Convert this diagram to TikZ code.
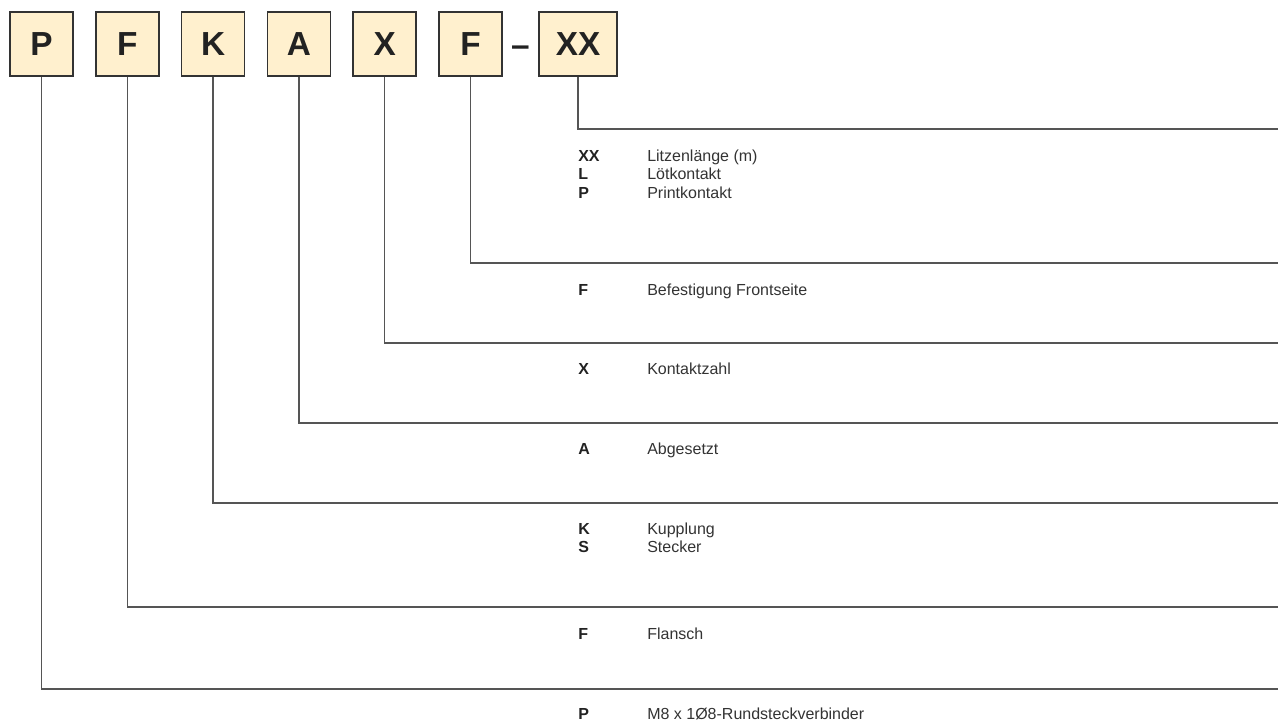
\documentclass[tikz,border=0pt]{standalone}
\usepackage{fontspec}
\setmainfont{Liberation Sans}
\usetikzlibrary{positioning}

\definecolor{boxfill}{RGB}{255,240,206}
\definecolor{boxline}{RGB}{51,51,51}
\definecolor{guideline}{RGB}{85,85,85}
\definecolor{keyink}{RGB}{34,34,34}
\definecolor{descink}{RGB}{51,51,51}

\begin{document}
\begin{tikzpicture}
  [x=0.75pt, y=-0.75pt,
   node distance=16pt,
   letterbox/.style={rectangle,
                     draw=boxline,
                     fill=boxfill,
                     line width=1.1pt,
                     text=keyink,
                     minimum width=47.25pt,
                     minimum height=48pt,
                     font=\fontsize{25}{25}\selectfont\bfseries},
   keytext/.style={anchor=base west, inner sep=0pt, text=keyink,
                   font=\fontsize{12}{12}\selectfont\bfseries},
   desctext/.style={anchor=base west, inner sep=0pt, text=descink,
                    font=\fontsize{12}{12}\selectfont},
   guide/.style={draw=guideline, line width=1.1pt}]
  \useasboundingbox (0,0) rectangle (1280,724);

  % code letters
  \node[letterbox] (p)                      at (41.5,44) {P};
  \node[letterbox] (f1)   [right=of p]      {F};
  \node[letterbox] (k)    [right=of f1]     {K};
  \node[letterbox] (a)    [right=of k]      {A};
  \node[letterbox] (x)    [right=of a]      {X};
  \node[letterbox] (f2)   [right=of x]      {F};
  \node[inner sep=0pt, text=keyink, yshift=-5.6pt,
        font=\fontsize{25}{25}\selectfont\bfseries]
                   (dash) [right=6pt of f2] {–};
  \node[letterbox, minimum width=58.5pt]
                   (xx)   [right=6.5pt of dash, yshift=5.6pt] {XX};

  % right ends of the guide lines
  \coordinate (endxx) at (1278,129);
  \coordinate (endf2) at (1278,263);
  \coordinate (endx)  at (1278,343);
  \coordinate (enda)  at (1278,423);
  \coordinate (endk)  at (1278,503);
  \coordinate (endf1) at (1278,607);
  \coordinate (endp)  at (1278,689);

  \draw[guide] (xx.south) |- (endxx);
  \draw[guide] (f2.south) |- (endf2);
  \draw[guide] (x.south)  |- (endx);
  \draw[guide] (a.south)  |- (enda);
  \draw[guide] (k.south)  |- (endk);
  \draw[guide] (f1.south) |- (endf1);
  \draw[guide] (p.south)  |- (endp);

  % legend
  \node[keytext]  (kxx)  at (578,161)   {XX};
  \node[desctext] (dxx)  at (647,161)   {Litzenlänge (m)};
  \node[keytext]  (kl)   at (578,179.5) {L};
  \node[desctext] (dl)   at (647,179.5) {Lötkontakt};
  \node[keytext]  (kp2)  at (578,198)   {P};
  \node[desctext] (dp2)  at (647,198)   {Printkontakt};

  \node[keytext]  (kf2)  at (578,295) {F};
  \node[desctext] (df2)  at (647,295) {Befestigung Frontseite};

  \node[keytext]  (kx)   at (578,374) {X};
  \node[desctext] (dx)   at (647,374) {Kontaktzahl};

  \node[keytext]  (ka)   at (578,454) {A};
  \node[desctext] (da)   at (647,454) {Abgesetzt};

  \node[keytext]  (kk)   at (578,534)   {K};
  \node[desctext] (dk)   at (647,534)   {Kupplung};
  \node[keytext]  (ks)   at (578,552.5) {S};
  \node[desctext] (ds)   at (647,552.5) {Stecker};

  \node[keytext]  (kf1)  at (578,639) {F};
  \node[desctext] (df1)  at (647,639) {Flansch};

  \node[keytext]  (kp)   at (578,719) {P};
  \node[desctext] (dp)   at (647,719) {M8 x 1Ø8-Rundsteckverbinder};
\end{tikzpicture}
\end{document}
